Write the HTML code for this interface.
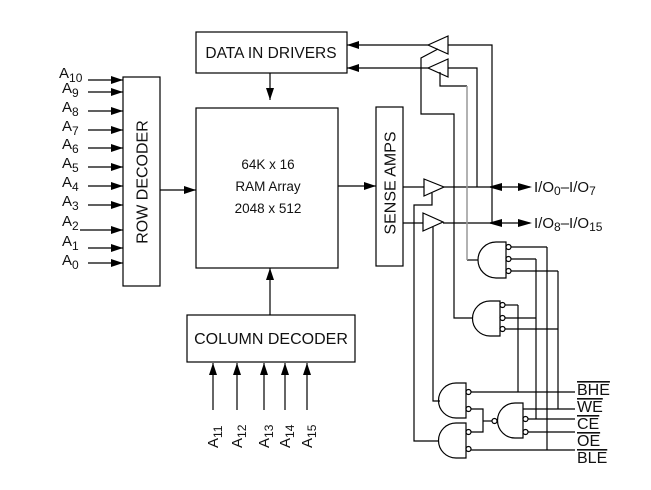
<!DOCTYPE html>
<html><head><meta charset="utf-8"><style>
html,body{margin:0;padding:0;background:#fff;}
svg{display:block;}
text{font-family:"Liberation Sans",sans-serif;fill:#111;}
</style></head><body>
<svg width="651" height="490" viewBox="0 0 651 490" xmlns="http://www.w3.org/2000/svg">
<defs>
<marker id="ah" markerWidth="12" markerHeight="8" refX="12" refY="4" orient="auto" markerUnits="userSpaceOnUse"><path d="M0,0 L12,4 L0,8 Z" fill="#000"/></marker>
</defs>
<g stroke="#000" stroke-width="1.2" fill="none">
<rect x="123" y="77" width="37" height="209"/>
<rect x="196" y="108" width="142" height="160"/>
<rect x="196" y="32" width="151" height="41"/>
<rect x="376" y="107" width="27" height="159"/>
<rect x="187" y="315" width="168" height="47"/>
<line x1="88" y1="80" x2="123" y2="80" marker-end="url(#ah)"/>
<line x1="88" y1="92" x2="123" y2="92" marker-end="url(#ah)"/>
<line x1="88" y1="111" x2="123" y2="111" marker-end="url(#ah)"/>
<line x1="88" y1="130" x2="123" y2="130" marker-end="url(#ah)"/>
<line x1="88" y1="148" x2="123" y2="148" marker-end="url(#ah)"/>
<line x1="88" y1="167" x2="123" y2="167" marker-end="url(#ah)"/>
<line x1="88" y1="186" x2="123" y2="186" marker-end="url(#ah)"/>
<line x1="88" y1="205" x2="123" y2="205" marker-end="url(#ah)"/>
<line x1="80" y1="230" x2="123" y2="230" marker-end="url(#ah)"/>
<line x1="88" y1="248" x2="123" y2="248" marker-end="url(#ah)"/>
<line x1="88" y1="263" x2="123" y2="263" marker-end="url(#ah)"/>
<line x1="160" y1="190" x2="196" y2="190" marker-end="url(#ah)"/>
<line x1="338" y1="186" x2="376" y2="186" marker-end="url(#ah)"/>
<line x1="270" y1="73" x2="270" y2="100" marker-end="url(#ah)"/>
<line x1="270" y1="315" x2="270" y2="268" marker-end="url(#ah)"/>
<line x1="213" y1="410" x2="213" y2="363" marker-end="url(#ah)"/>
<line x1="237" y1="410" x2="237" y2="363" marker-end="url(#ah)"/>
<line x1="264" y1="410" x2="264" y2="363" marker-end="url(#ah)"/>
<line x1="285" y1="410" x2="285" y2="363" marker-end="url(#ah)"/>
<line x1="307" y1="410" x2="307" y2="363" marker-end="url(#ah)"/>
<path d="M428,45 L448,36 L448,54 Z"/>
<path d="M428,68 L448,59 L448,77 Z"/>
<line x1="428" y1="45" x2="347" y2="45" marker-end="url(#ah)"/>
<line x1="428" y1="68" x2="347" y2="68" marker-end="url(#ah)"/>
<polyline points="448,45 492,45 492,223"/>
<polyline points="448,68 477,68 477,187"/>
<polyline points="438,49 421,58 421,114 454,114 454,318 472,318"/>
<polyline points="440,72 440,86 467,86"/>
<path d="M424,179 L444,187 L424,196 Z"/>
<path d="M423,213 L443,222 L423,231 Z"/>
<line x1="403" y1="187" x2="424" y2="187"/>
<line x1="403" y1="223" x2="423" y2="223"/>
<line x1="444" y1="187" x2="500" y2="187"/>
<line x1="443" y1="223" x2="500" y2="223"/>
<polyline points="432,193 432,205 414,205 414,441 438,441"/>
<polyline points="433,227 433,401 440,401"/>
<path d="M506,242 L496,242 A18,18 0 0 0 496,278 L506,278 Z"/>
<path d="M500,301 L490,301 A17.5,17.5 0 0 0 490,336 L500,336 Z"/>
<path d="M466,383 L456,383 A17.5,17.5 0 0 0 456,418 L466,418 Z"/>
<path d="M466,423 L456,423 A17.5,17.5 0 0 0 456,458 L466,458 Z"/>
<path d="M523,403 L515,403 A17.5,17.5 0 0 0 515,438 L523,438 Z"/>
<circle cx="508.5" cy="247" r="2.5"/><circle cx="508.5" cy="259" r="2.5"/><circle cx="508.5" cy="271" r="2.5"/>
<circle cx="502.5" cy="305" r="2.5"/><circle cx="502.5" cy="318" r="2.5"/><circle cx="502.5" cy="329" r="2.5"/>
<circle cx="468.5" cy="392" r="2.5"/><circle cx="468.5" cy="409" r="2.5"/>
<circle cx="468.5" cy="432" r="2.5"/><circle cx="468.5" cy="449" r="2.5"/>
<circle cx="525.5" cy="419" r="2.5"/><circle cx="525.5" cy="432" r="2.5"/>
<circle cx="494.5" cy="421" r="2.5"/>
<line x1="478" y1="260" x2="467" y2="260"/>
<line x1="511" y1="247" x2="547" y2="247"/>
<line x1="511" y1="259" x2="536" y2="259"/>
<line x1="511" y1="271" x2="558" y2="271"/>
<line x1="505" y1="305" x2="518" y2="305"/>
<line x1="505" y1="318" x2="536" y2="318"/>
<line x1="505" y1="329" x2="558" y2="329"/>
<line x1="547" y1="247" x2="547" y2="450"/>
<line x1="536" y1="259" x2="536" y2="419"/>
<line x1="558" y1="271" x2="558" y2="409"/>
<line x1="518" y1="305" x2="518" y2="392"/>
<line x1="471" y1="392" x2="575" y2="392"/>
<line x1="523" y1="409" x2="575" y2="409"/>
<line x1="528" y1="419" x2="575" y2="419"/>
<line x1="528" y1="432" x2="575" y2="432"/>
<line x1="471" y1="450" x2="575" y2="450"/>
<polyline points="471,409 483,409 483,432 471,432"/>
<line x1="483" y1="421" x2="492" y2="421"/>
</g>
<line x1="467" y1="86" x2="467" y2="260" stroke="#999" stroke-width="1.5"/>
<g fill="#000">
<line x1="490" y1="187" x2="530" y2="187" stroke="#000" stroke-width="1.2"/>
<path d="M488,187 L502,183 L502,191 Z"/><path d="M532,187 L518,183 L518,191 Z"/>
<line x1="490" y1="223" x2="530" y2="223" stroke="#000" stroke-width="1.2"/>
<path d="M488,223 L502,219 L502,227 Z"/><path d="M532,223 L518,219 L518,227 Z"/>
</g>
<g font-size="15">
<text x="271" y="58" text-anchor="middle" font-size="15.5">DATA IN DRIVERS</text>
<text x="268" y="169" text-anchor="middle" font-size="13.5">64K x 16</text>
<text x="268" y="191" text-anchor="middle" font-size="13.5">RAM Array</text>
<text x="268" y="213" text-anchor="middle" font-size="13.5">2048 x 512</text>
<text x="271" y="344" text-anchor="middle" font-size="16">COLUMN DECODER</text>
<text transform="translate(147.5,182) rotate(-90)" text-anchor="middle" font-size="16">ROW DECODER</text>
<text transform="translate(395.5,183) rotate(-90)" text-anchor="middle" font-size="16">SENSE AMPS</text>
<text x="534" y="192">I/O<tspan font-size="12" dy="3">0</tspan><tspan dy="-3">–I/O</tspan><tspan font-size="12" dy="3">7</tspan></text>
<text x="534" y="228">I/O<tspan font-size="12" dy="3">8</tspan><tspan dy="-3">–I/O</tspan><tspan font-size="12" dy="3">15</tspan></text>
<text x="59" y="78">A<tspan font-size="12" dy="4">10</tspan></text>
<text x="62" y="93">A<tspan font-size="12" dy="4">9</tspan></text>
<text x="62" y="112">A<tspan font-size="12" dy="4">8</tspan></text>
<text x="62" y="131">A<tspan font-size="12" dy="4">7</tspan></text>
<text x="62" y="149">A<tspan font-size="12" dy="4">6</tspan></text>
<text x="62" y="168">A<tspan font-size="12" dy="4">5</tspan></text>
<text x="62" y="187">A<tspan font-size="12" dy="4">4</tspan></text>
<text x="62" y="206">A<tspan font-size="12" dy="4">3</tspan></text>
<text x="62" y="226">A<tspan font-size="12" dy="4">2</tspan></text>
<text x="62" y="246">A<tspan font-size="12" dy="4">1</tspan></text>
<text x="62" y="265">A<tspan font-size="12" dy="4">0</tspan></text>
<text transform="translate(218,448) rotate(-90)">A<tspan font-size="12" dy="4">11</tspan></text>
<text transform="translate(242,448) rotate(-90)">A<tspan font-size="12" dy="4">12</tspan></text>
<text transform="translate(269,448) rotate(-90)">A<tspan font-size="12" dy="4">13</tspan></text>
<text transform="translate(290,448) rotate(-90)">A<tspan font-size="12" dy="4">14</tspan></text>
<text transform="translate(312,448) rotate(-90)">A<tspan font-size="12" dy="4">15</tspan></text>
<g font-size="16">
<text x="577" y="395" text-decoration="overline">BHE</text>
<text x="577" y="412" text-decoration="overline">WE</text>
<text x="577" y="429" text-decoration="overline">CE</text>
<text x="577" y="446" text-decoration="overline">OE</text>
<text x="577" y="463" text-decoration="overline">BLE</text>
</g>
</g>
</svg>
</body></html>
